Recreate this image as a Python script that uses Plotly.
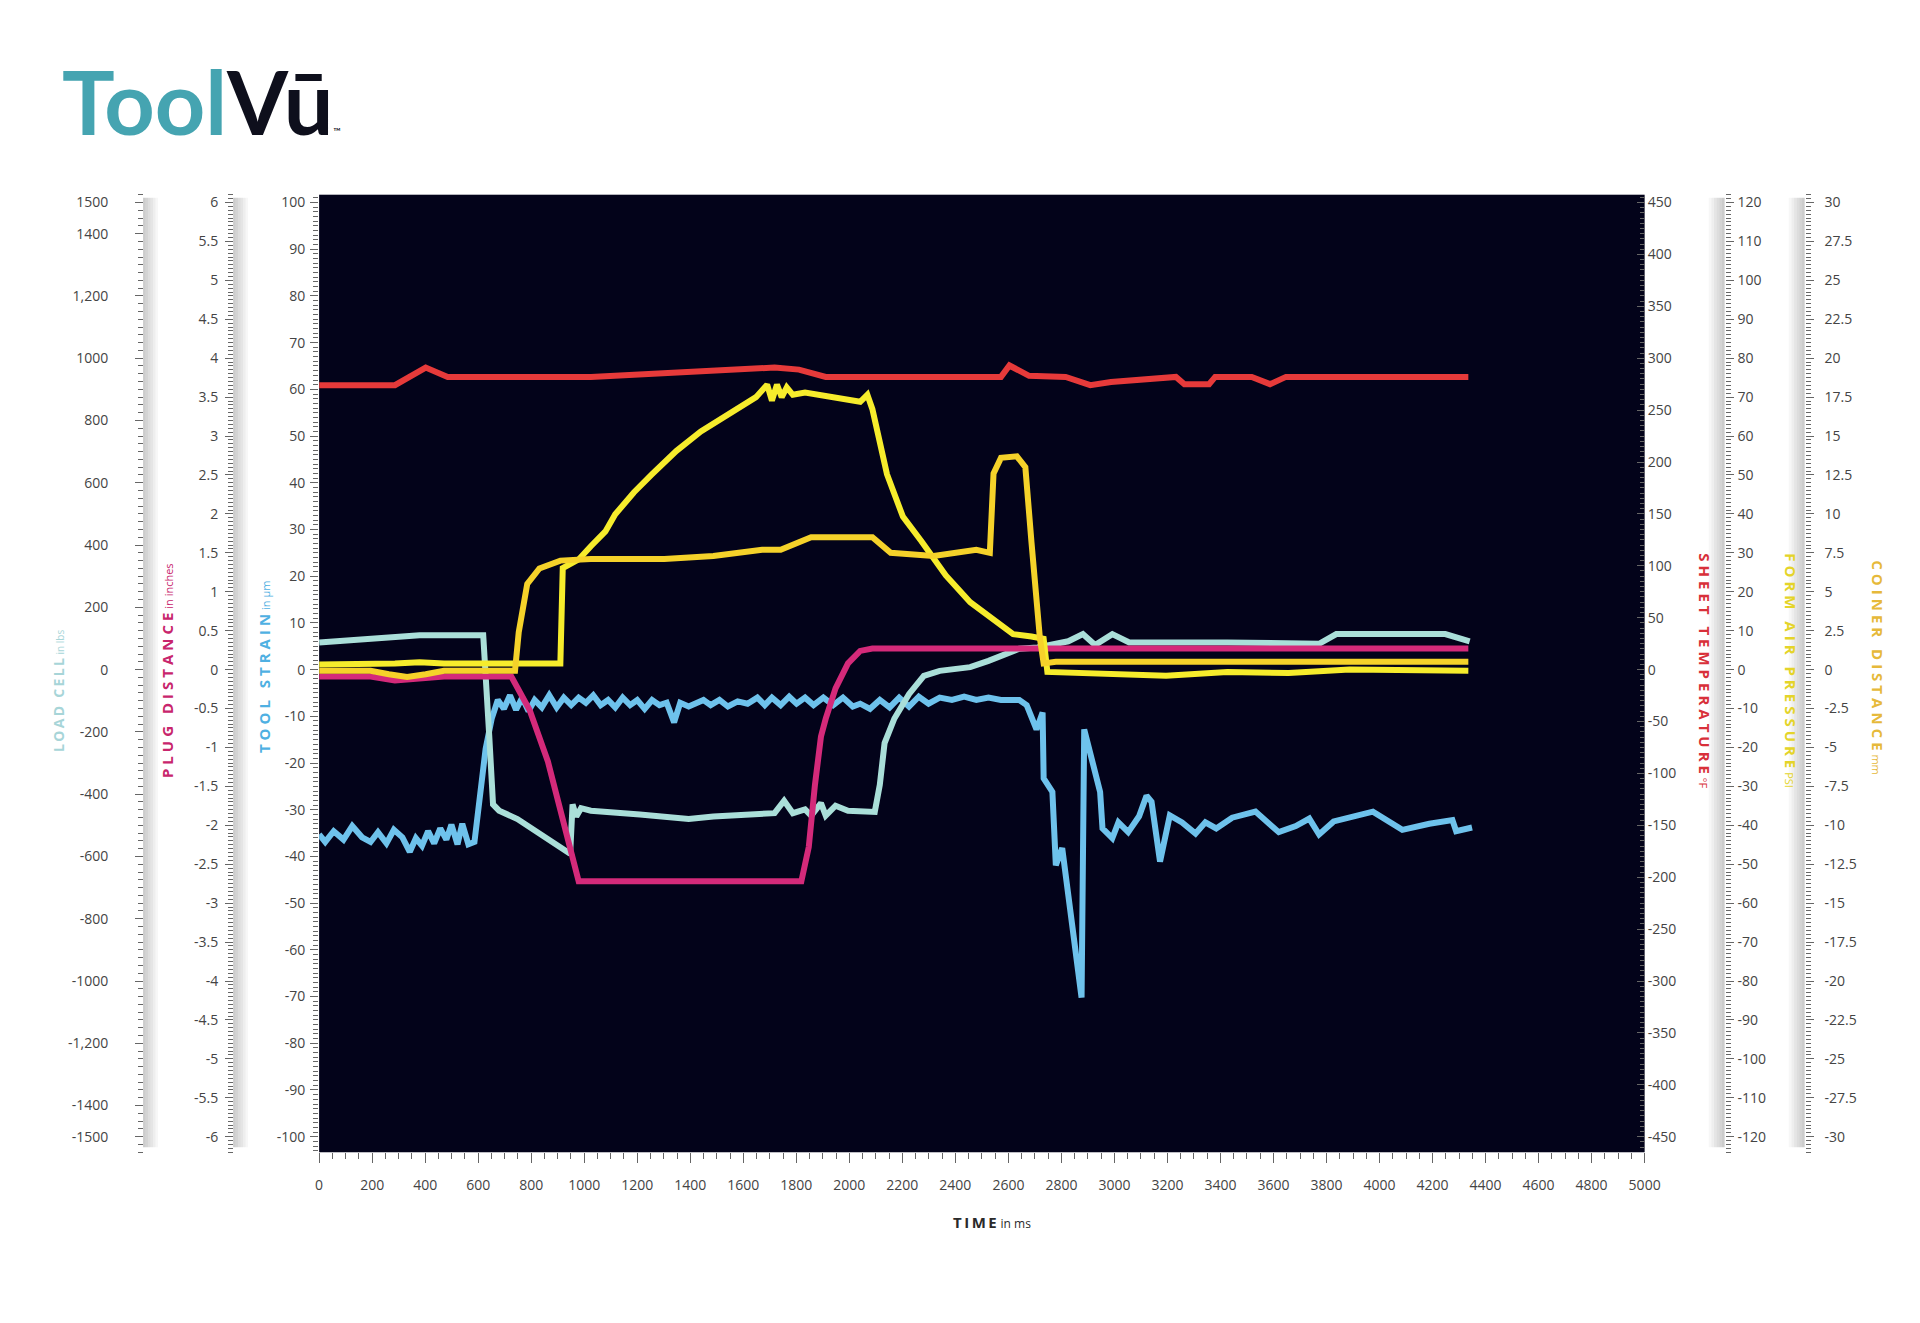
import plotly.graph_objects as go

# ---------------- data ----------------
# Tool strain (µm)  -> left axis at plot edge
strain_t = [0, 23, 55, 92, 125, 162, 194, 222, 254, 282, 314, 342, 365, 388, 411, 434, 457, 480, 499, 522,
            540, 563, 586, 605, 628, 651, 674, 697, 720, 743, 766, 790, 813, 840, 868, 896, 923, 951, 979,
            1006, 1034, 1062, 1090, 1117, 1145, 1173, 1200, 1228, 1256, 1284, 1311, 1339, 1362, 1394, 1422,
            1450, 1477, 1510, 1542, 1579, 1616, 1653, 1681, 1708, 1741, 1773, 1801, 1833, 1865, 1902, 1939,
            1976, 2013, 2041, 2078, 2115, 2152, 2188, 2225, 2262, 2299, 2341, 2387, 2433, 2479, 2525, 2572,
            2641, 2669, 2706, 2729, 2733, 2766, 2779, 2803, 2840, 2876, 2886, 2946, 2955, 2992, 3015, 3052,
            3093, 3121, 3140, 3172, 3209, 3255, 3306, 3343, 3384, 3444, 3532, 3620, 3684, 3735, 3772, 3827,
            3975, 4086, 4188, 4275, 4289, 4349]
strain_v = [-35.3, -36.9, -34.6, -36.4, -33.5, -35.9, -36.9, -34.8, -37.2, -34.3, -35.9, -39.0, -36.1, -37.7,
            -34.6, -37.2, -34.0, -36.4, -33.2, -37.4, -33.0, -37.4, -36.9, -28.8, -17.0, -10.5, -6.5, -8.4,
            -5.5, -8.6, -6.0, -8.9, -6.5, -8.1, -5.5, -8.1, -6.0, -7.6, -6.0, -7.1, -5.5, -7.6, -6.5, -8.1,
            -6.0, -7.6, -6.5, -8.4, -6.5, -7.6, -7.1, -11.3, -7.1, -7.9, -7.3, -6.5, -7.6, -6.5, -7.9, -6.8,
            -7.3, -6.0, -7.6, -6.0, -7.6, -5.8, -7.3, -6.0, -7.6, -6.0, -7.6, -6.0, -7.9, -7.3, -8.4, -6.5,
            -8.1, -6.0, -7.9, -5.8, -7.3, -6.0, -6.5, -5.8, -6.5, -6.0, -6.5, -6.5, -7.6, -12.8, -9.2, -23.3,
            -26.2, -41.9, -38.2, -53.7, -70.2, -12.8, -26.2, -34.0, -36.1, -32.7, -34.8, -31.4, -27.0, -28.3,
            -41.1, -31.2, -32.7, -35.1, -32.7, -34.0, -31.7, -30.4, -34.8, -33.5, -31.9, -35.3, -32.5, -30.4,
            -34.3, -33.0, -32.2, -34.6, -33.8]

# Load cell (lbs)
load_t = [0, 194, 379, 619, 628, 642, 656, 679, 748, 840, 947, 956, 970, 988, 1025, 1210, 1394, 1487, 1671,
          1718, 1754, 1787, 1833, 1856, 1893, 1911, 1948, 1995, 2096, 2115, 2133, 2170, 2225, 2281, 2341,
          2456, 2525, 2572, 2641, 2710, 2826, 2881, 2927, 2992, 3056, 3426, 3772, 3837, 4248, 4340]
load_v = [87, 98, 110, 110, 0, -217, -433, -453, -480, -531, -591, -433, -472, -445, -453, -465, -480, -472,
          -461, -461, -421, -461, -449, -469, -429, -469, -437, -453, -457, -370, -236, -157, -79, -20, -4,
          8, 28, 43, 67, 71, 91, 114, 79, 114, 87, 87, 83, 114, 114, 91]

# Plug distance (inches)
plug_t = [0, 194, 286, 379, 471, 725, 794, 863, 933, 979, 1819, 1847, 1870, 1893, 1911, 1948, 1995, 2041, 2087, 4335]
plug_v = [-0.09, -0.09, -0.14, -0.11, -0.09, -0.09, -0.52, -1.18, -2.12, -2.72, -2.72, -2.28, -1.49, -0.86,
          -0.63, -0.24, 0.08, 0.24, 0.27, 0.27]

# Sheet temperature (°F)
temp_t = [0, 286, 402, 485, 1025, 1394, 1718, 1810, 1911, 2572, 2604, 2678, 2816, 2909, 2987, 3232, 3264,
          3357, 3380, 3518, 3587, 3647, 4335]
temp_v = [274, 274, 291, 282, 282, 287, 291, 289, 282, 282, 293, 283, 282, 274, 277, 282, 275, 275, 282,
          282, 275, 282, 282]

# Form air pressure (PSI)
psi_t = [0, 194, 286, 379, 471, 748, 910, 919, 979, 1025, 1080, 1117, 1187, 1256, 1348, 1440, 1556, 1648,
         1690, 1708, 1727, 1745, 1764, 1787, 1833, 1948, 2041, 2068, 2087, 2142, 2202, 2272, 2364, 2456,
         2549, 2618, 2687, 2733, 2747, 2964, 3195, 3426, 3657, 3887, 4118, 4335]
psi_v = [1.3, 1.3, 1.6, 1.9, 1.6, 1.6, 1.6, 26.1, 28.3, 31.7, 35.5, 39.9, 45.5, 50.2, 56.2, 61.2, 65.9,
         70.0, 73.2, 69.1, 73.2, 70.0, 72.5, 70.6, 71.2, 70.0, 68.8, 70.6, 66.9, 50.2, 39.3, 33.0, 24.2,
         17.3, 12.6, 9.1, 8.5, 7.9, -0.6, -0.9, -1.6, -0.6, -0.9, 0.0, -0.3, -0.3]

# Coiner distance (mm)
coin_t = [0, 194, 263, 332, 402, 471, 739, 753, 785, 831, 910, 1025, 1302, 1487, 1671, 1741, 1856, 2087,
          2156, 2318, 2479, 2530, 2544, 2572, 2632, 2664, 2687, 2719, 2733, 2779, 4335]
coin_v = [-0.08, -0.08, -0.3, -0.47, -0.3, -0.08, -0.08, 2.4, 5.5, 6.5, 7.0, 7.1, 7.1, 7.3, 7.7, 7.7, 8.5,
          8.5, 7.5, 7.3, 7.7, 7.5, 12.6, 13.6, 13.7, 13.0, 8.2, 2.0, 0.4, 0.5, 0.5]

# tick labels
time_ticks = [0, 200, 400, 600, 800, 1000, 1200, 1400, 1600, 1800, 2000, 2200, 2400, 2600, 2800, 3000,
              3200, 3400, 3600, 3800, 4000, 4200, 4400, 4600, 4800, 5000]
load_ticks = [1500, 1400, 1200, 1000, 800, 600, 400, 200, 0, -200, -400, -600, -800, -1000, -1200, -1400, -1500]
load_text = ["1500", "1400", "1,200", "1000", "800", "600", "400", "200", "0", "-200", "-400", "-600",
             "-800", "-1000", "-1,200", "-1400", "-1500"]
plug_ticks = [6, 5.5, 5, 4.5, 4, 3.5, 3, 2.5, 2, 1.5, 1, 0.5, 0, -0.5, -1, -1.5, -2, -2.5, -3, -3.5, -4,
              -4.5, -5, -5.5, -6]
strain_ticks = [100, 90, 80, 70, 60, 50, 40, 30, 20, 10, 0, -10, -20, -30, -40, -50, -60, -70, -80, -90, -100]
temp_ticks = [450, 400, 350, 300, 250, 200, 150, 100, 50, 0, -50, -100, -150, -200, -250, -300, -350, -400, -450]
psi_ticks = [120, 110, 100, 90, 80, 70, 60, 50, 40, 30, 20, 10, 0, -10, -20, -30, -40, -50, -60, -70, -80,
             -90, -100, -110, -120]
coin_ticks = [30, 27.5, 25, 22.5, 20, 17.5, 15, 12.5, 10, 7.5, 5, 2.5, 0, -2.5, -5, -7.5, -10, -12.5, -15,
              -17.5, -20, -22.5, -25, -27.5, -30]

# ---------------- layout helpers ----------------
W, H = 1920, 1323
SX = 0.9892          # measured horizontal factor of the rendered page
PL, PR, PT, PB = 315, 1640, 193, 1152
LO, HI = -103.33, 101.67


def px(x):
    return x / (W * SX)


def py(y):
    return 1 - y / H


def fmt(v):
    return "%g" % v


def spaced(s, gap="\u2009"):
    return gap.join(s)


C_LOAD = "#aadfd9"
C_PLUG = "#d42a7a"
C_STRAIN = "#6ec2ec"
C_TEMP = "#e63a3a"
C_PSI = "#f6ec2c"
C_COIN = "#f5d22a"

LABEL_FONT = dict(family="Open Sans, sans-serif", size=14, color="#444444")
TICKC = "#666666"

fig = go.Figure()
LW = 6
fig.add_trace(go.Scatter(x=coin_t, y=coin_v, yaxis="y6", mode="lines", line=dict(color=C_COIN, width=LW)))
fig.add_trace(go.Scatter(x=psi_t, y=psi_v, yaxis="y5", mode="lines", line=dict(color=C_PSI, width=LW)))
fig.add_trace(go.Scatter(x=plug_t, y=plug_v, yaxis="y3", mode="lines", line=dict(color=C_PLUG, width=LW)))
fig.add_trace(go.Scatter(x=load_t, y=load_v, yaxis="y2", mode="lines", line=dict(color=C_LOAD, width=LW)))
fig.add_trace(go.Scatter(x=strain_t, y=strain_v, yaxis="y", mode="lines", line=dict(color=C_STRAIN, width=LW)))
fig.add_trace(go.Scatter(x=temp_t, y=temp_v, yaxis="y4", mode="lines", line=dict(color=C_TEMP, width=LW)))


def yax(scale, ticks, text=None, minor_dt=None, side="left", position=None, anchor="x", overlay=True,
        standoff=2, ticklen=8, minorlen=5, ticks_dir="outside"):
    d = dict(range=[LO * scale, HI * scale], tickmode="array", tickvals=ticks,
             ticktext=text if text is not None else [fmt(v) for v in ticks],
             ticks=ticks_dir, ticklen=ticklen, tickwidth=1, tickcolor=TICKC,
             showgrid=False, zeroline=False, showline=False, side=side,
             tickfont=LABEL_FONT, ticklabelstandoff=standoff, fixedrange=True)
    if minor_dt:
        d["minor"] = dict(ticks=ticks_dir, tickmode="linear", tick0=0, dtick=minor_dt, ticklen=minorlen,
                          tickwidth=1, tickcolor=TICKC, showgrid=False)
    if overlay:
        d["overlaying"] = "y"
    if position is not None:
        d["anchor"] = "free"
        d["position"] = position
    else:
        d["anchor"] = anchor
    return d


layout = dict(
    width=W, height=H, autosize=False, paper_bgcolor="white", plot_bgcolor="#03031a",
    margin=dict(l=0, r=0, t=0, b=0), showlegend=False,
    xaxis=dict(domain=[px(PL), px(PR)], range=[0, 5000], tickmode="array", tickvals=time_ticks,
               ticktext=[str(v) for v in time_ticks], ticks="outside", ticklen=10, tickwidth=1,
               tickcolor=TICKC, showgrid=False, zeroline=False, showline=False, tickfont=LABEL_FONT,
               ticklabelstandoff=10, fixedrange=True,
               minor=dict(ticks="outside", tickmode="linear", tick0=0, dtick=50, ticklen=6, tickwidth=1,
                          tickcolor=TICKC, showgrid=False)),
    yaxis=dict(domain=[py(PB), py(PT)], **yax(1, strain_ticks, minor_dt=1, overlay=False, standoff=2)),
    yaxis2=yax(15, load_ticks, load_text, minor_dt=25, position=px(139), standoff=24),
    yaxis3=yax(0.06, plug_ticks, minor_dt=0.05, position=px(229), standoff=4),
    yaxis4=yax(4.5, temp_ticks, minor_dt=5, side="right", standoff=2, ticks_dir="inside", ticklen=8,
               minorlen=5),
    yaxis5=yax(1.2, psi_ticks, minor_dt=1, side="right", position=px(1720), standoff=1),
    yaxis6=yax(0.3, coin_ticks, minor_dt=0.25, side="right", position=px(1800), standoff=8),
)
fig.update_layout(**layout)

# ruler shadows (soft gray strips)
shapes = []


def shadow(x0, x1, fade_right=True):
    n = 6
    w = (x1 - x0) / n
    for i in range(n):
        a = 0.2 * (1 - i / n) if fade_right else 0.2 * ((i + 1) / n)
        shapes.append(dict(type="rect", xref="paper", yref="paper", x0=px(x0 + i * w), x1=px(x0 + (i + 1) * w),
                           y0=py(1147), y1=py(196), fillcolor="rgba(0,0,0,%.3f)" % a, line=dict(width=0),
                           layer="below"))


shadow(139, 154, True)
shadow(229, 244, True)
shadow(1704, 1720, False)
shadow(1784, 1800, False)
fig.update_layout(shapes=shapes)

# axis titles
ann = []


def title(x, y, main, unit, color, angle, size=15, gap="\u2009\u200a", unit_size=11):
    txt = "<b>%s</b> <span style='font-size:%dpx'>%s</span>" % (spaced(main, gap), unit_size, unit)
    ann.append(dict(x=px(x), y=py(y), xref="paper", yref="paper", text=txt, textangle=angle, showarrow=False,
                    xanchor="center", yanchor="middle",
                    font=dict(family="Open Sans, sans-serif", size=size, color=color)))


title(55, 690, "LOAD CELL", "in lbs", "#a7d5d8", -90, size=14, gap="\u2009", unit_size=10)
title(163, 670, "PLUG DISTANCE", "in inches", "#c8256c", -90)
title(260, 666, "TOOL STRAIN", "in µm", "#4fb0e2", -90)
title(1700, 670, "SHEET TEMPERATURE", "°F", "#d8303a", 90)
title(1786, 670, "FORM AIR PRESSURE", "PSI", "#e4d42a", 90)
title(1873, 667, "COINER DISTANCE", "mm", "#e6b93a", 90)

ann.append(dict(x=px(988), y=py(1222), xref="paper", yref="paper", showarrow=False, xanchor="center",
                yanchor="middle",
                text="<b>%s</b> <span style='font-size:12px'>in ms</span>" % spaced("TIME"),
                font=dict(family="Open Sans, sans-serif", size=15, color="#2a2a2a")))

# logo
ann.append(dict(x=px(56), y=py(99), xref="paper", yref="paper", showarrow=False, xanchor="left",
                yanchor="middle",
                text="<b><span style='color:#45a4b1'>Tool</span><span style='color:#0e0f1c'>Vū</span></b>"
                     "<span style='font-size:10px;color:#0e0f1c'>™</span>",
                font=dict(family="Lato, sans-serif", size=88, color="#45a4b1")))
fig.update_layout(annotations=ann)

fig.write_html(
    "out.html",
    config={"displayModeBar": False, "responsive": False},
    post_script="document.body.style.margin='0';document.body.style.padding='0';"
                "document.documentElement.style.overflow='hidden';document.body.style.overflow='hidden';"
                "Plotly.relayout('{plot_id}', {width: 1920, height: 1323, autosize: false});",
)
